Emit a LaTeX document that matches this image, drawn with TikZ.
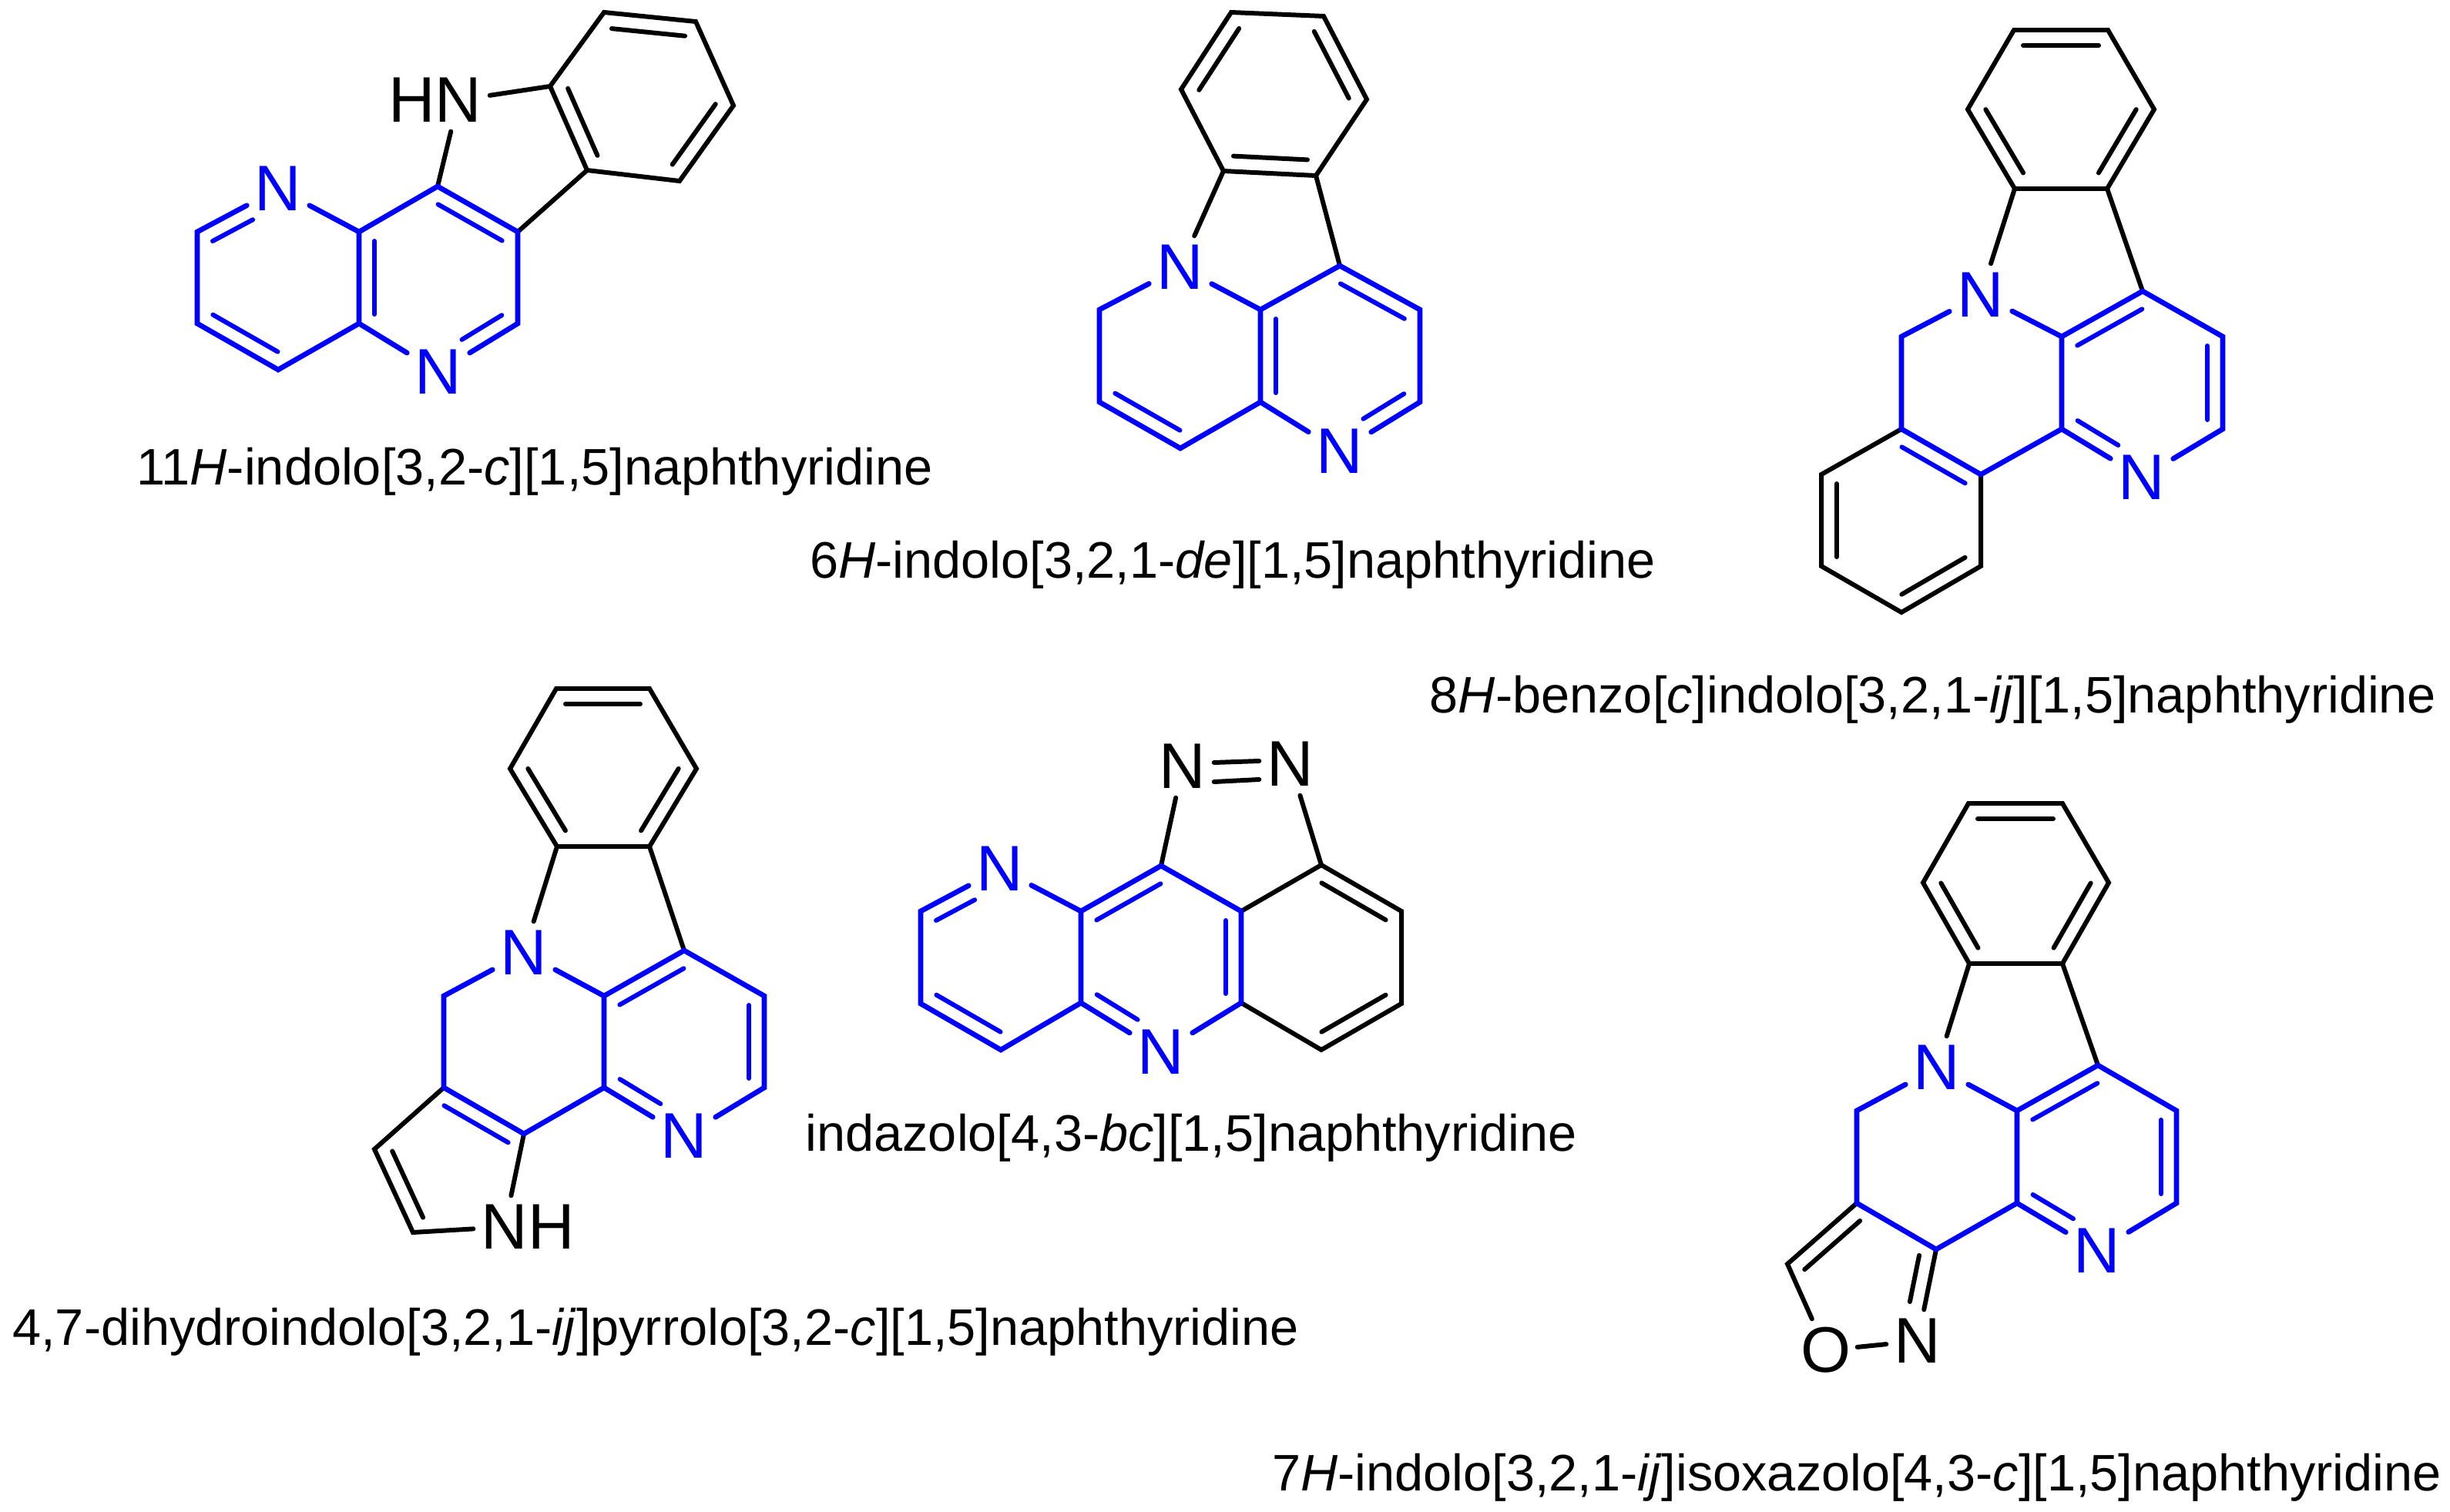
\documentclass[tikz,border=0pt]{standalone}
\usepackage{fontspec}
\setmainfont{Liberation Sans}
\usepackage{xcolor}
\usetikzlibrary{calc}
\tikzset{
	bond/.style={line width=1.7pt,line cap=round,line join=miter},
	bluebond/.style={bond,blue,line width=1.9pt},
	innerbond/.style={bond,shorten <=0.12cm,shorten >=0.12cm},
	toN/.style={shorten >=0.48cm},
	fromN/.style={shorten <=0.48cm},
	atom/.style={rectangle,inner sep=0pt,minimum size=0.8cm,font=\fontsize{23.8}{24}\selectfont},
	blueatom/.style={atom,text=blue},
	title/.style={anchor=base,inner sep=0pt,font=\fontsize{18.97}{20}\selectfont}
}
\newcommand{\dbl}[3][]{\draw[innerbond,#1] ($(#2)!0.2cm!90:(#3)$) -- ($(#3)!0.2cm!-90:(#2)$);}
\begin{document}
\begin{tikzpicture}
	\useasboundingbox (0,0) rectangle (31.8,-19.63);
	\coordinate (A1) at (7.84,-0.16);
	\coordinate (A2) at (9.03,-0.28);
	\coordinate (A3) at (9.52,-1.37);
	\coordinate (A4) at (8.82,-2.35);
	\coordinate (A5) at (7.62,-2.21);
	\coordinate (A6) at (7.14,-1.12);
	\coordinate (A7) at (5.68,-2.42);
	\coordinate (A8) at (6.72,-3.01);
	\coordinate (A9) at (6.72,-4.20);
	\coordinate (A10) at (4.66,-4.20);
	\coordinate (A11) at (4.66,-3.01);
	\coordinate (A12) at (2.56,-3.01);
	\coordinate (A13) at (2.56,-4.20);
	\coordinate (A14) at (3.61,-4.80);
	\node[atom] (AN1) at (5.95,-1.30) {\llap{H}N};
	\node[blueatom] (AN2) at (3.61,-2.45) {N};
	\node[blueatom] (AN3) at (5.69,-4.83) {N};
	\draw[bond] (A1) -- (A2) -- (A3) -- (A4) -- (A5) -- (A6) -- cycle;
	\draw[bond] (A6) -- (AN1);
	\draw[bond] (A5) -- (A8);
	\draw[bond] (AN1) -- (A7);
	\draw[bluebond] (AN2) -- (A12) -- (A13) -- (A14) -- (A10) -- (A11) -- (AN2);
	\draw[bluebond] (A10) -- (AN3);
	\draw[bluebond] (AN3) -- (A9) -- (A8) -- (A7) -- (A11);
	\dbl{A2}{A1}
	\dbl{A4}{A3}
	\dbl{A6}{A5}
	\dbl[blue,fromN]{AN2}{A12}
	\dbl[blue]{A13}{A14}
	\dbl[blue]{A11}{A10}
	\dbl[blue]{A8}{A7}
	\dbl[blue,fromN]{AN3}{A9}
	\node[title] (Aname) at (6.94,-6.29) {11\textit{H}-indolo[3,2-\textit{c}][1,5]naphthyridine};

	\coordinate (B1) at (15.98,-0.16);
	\coordinate (B2) at (17.18,-0.21);
	\coordinate (B3) at (17.74,-1.29);
	\coordinate (B4) at (17.08,-2.28);
	\coordinate (B5) at (15.88,-2.22);
	\coordinate (B6) at (15.33,-1.16);
	\coordinate (B7) at (17.39,-3.45);
	\coordinate (B8) at (18.43,-4.02);
	\coordinate (B9) at (18.43,-5.22);
	\coordinate (B10) at (16.36,-5.22);
	\coordinate (B11) at (16.36,-4.02);
	\coordinate (B12) at (15.32,-5.82);
	\coordinate (B13) at (14.27,-5.22);
	\coordinate (B14) at (14.27,-4.02);
	\node[blueatom] (BN1) at (15.32,-3.47) {N};
	\node[blueatom] (BN2) at (17.39,-5.86) {N};
	\draw[bond] (B1) -- (B2) -- (B3) -- (B4) -- (B5) -- (B6) -- cycle;
	\draw[bond] (B5) -- (BN1);
	\draw[bond] (B4) -- (B7);
	\draw[bluebond] (BN1) -- (B14) -- (B13) -- (B12) -- (B10) -- (B11) -- (BN1);
	\draw[bluebond] (B10) -- (BN2);
	\draw[bluebond] (BN2) -- (B9) -- (B8) -- (B7) -- (B11);
	\dbl{B1}{B6}
	\dbl{B5}{B4}
	\dbl{B3}{B2}
	\dbl[blue]{B13}{B12}
	\dbl[blue]{B11}{B10}
	\dbl[blue,fromN]{BN2}{B9}
	\dbl[blue]{B8}{B7}
	\node[title] (Bname) at (16.00,-7.50) {6\textit{H}-indolo[3,2,1-\textit{de}][1,5]naphthyridine};

	\coordinate (C1) at (26.14,-0.39);
	\coordinate (C2) at (27.36,-0.39);
	\coordinate (C3) at (27.96,-1.42);
	\coordinate (C4) at (27.35,-2.45);
	\coordinate (C5) at (26.15,-2.45);
	\coordinate (C6) at (25.54,-1.42);
	\coordinate (C7) at (27.81,-3.78);
	\coordinate (C8) at (28.85,-4.37);
	\coordinate (C9) at (28.85,-5.57);
	\coordinate (C10) at (26.76,-5.57);
	\coordinate (C11) at (26.76,-4.37);
	\coordinate (C12) at (24.68,-4.37);
	\coordinate (C13) at (24.68,-5.57);
	\coordinate (C14) at (25.71,-6.16);
	\coordinate (C15) at (25.71,-7.35);
	\coordinate (C16) at (24.68,-7.95);
	\coordinate (C17) at (23.64,-7.35);
	\coordinate (C18) at (23.64,-6.16);
	\node[blueatom] (CN1) at (25.71,-3.83) {N};
	\node[blueatom] (CN2) at (27.80,-6.20) {N};
	\draw[bond] (C1) -- (C2) -- (C3) -- (C4) -- (C5) -- (C6) -- cycle;
	\draw[bond] (C5) -- (CN1);
	\draw[bond] (C4) -- (C7);
	\draw[bond] (C13) -- (C18) -- (C17) -- (C16) -- (C15) -- (C14);
	\draw[bluebond] (CN1) -- (C12) -- (C13) -- (C14) -- (C10) -- (C11) -- (CN1);
	\draw[bluebond] (C10) -- (CN2);
	\draw[bluebond] (CN2) -- (C9) -- (C8) -- (C7) -- (C11);
	\dbl{C2}{C1}
	\dbl{C6}{C5}
	\dbl{C4}{C3}
	\dbl{C18}{C17}
	\dbl{C16}{C15}
	\dbl[blue]{C14}{C13}
	\dbl[blue]{C7}{C11}
	\dbl[blue,toN]{C10}{CN2}
	\dbl[blue]{C9}{C8}
	\node[title] (Cname) at (25.09,-9.25) {8\textit{H}-benzo[\textit{c}]indolo[3,2,1-\textit{ij}][1,5]naphthyridine};

	\coordinate (D1) at (7.22,-8.94);
	\coordinate (D2) at (8.43,-8.94);
	\coordinate (D3) at (9.04,-9.98);
	\coordinate (D4) at (8.43,-10.99);
	\coordinate (D5) at (7.23,-10.99);
	\coordinate (D6) at (6.62,-9.98);
	\coordinate (D7) at (8.88,-12.34);
	\coordinate (D8) at (9.92,-12.93);
	\coordinate (D9) at (9.92,-14.12);
	\coordinate (D10) at (7.84,-14.12);
	\coordinate (D11) at (7.84,-12.93);
	\coordinate (D12) at (5.76,-12.93);
	\coordinate (D13) at (5.76,-14.12);
	\coordinate (D14) at (6.80,-14.72);
	\coordinate (D15) at (4.86,-14.92);
	\coordinate (D16) at (5.36,-16.00);
	\node[blueatom] (DN1) at (6.80,-12.37) {N};
	\node[blueatom] (DN2) at (8.88,-14.75) {N};
	\node[atom] (DN3) at (6.55,-15.93) {N\rlap{H}};
	\draw[bond] (D1) -- (D2) -- (D3) -- (D4) -- (D5) -- (D6) -- cycle;
	\draw[bond] (D5) -- (DN1);
	\draw[bond] (D4) -- (D7);
	\draw[bond] (D13) -- (D15) -- (D16) -- (DN3);
	\draw[bond] (DN3) -- (D14);
	\draw[bluebond] (DN1) -- (D12) -- (D13) -- (D14) -- (D10) -- (D11) -- (DN1);
	\draw[bluebond] (D10) -- (DN2);
	\draw[bluebond] (DN2) -- (D9) -- (D8) -- (D7) -- (D11);
	\dbl{D2}{D1}
	\dbl{D6}{D5}
	\dbl{D4}{D3}
	\dbl{D15}{D16}
	\dbl[blue]{D14}{D13}
	\dbl[blue]{D7}{D11}
	\dbl[blue,toN]{D10}{DN2}
	\dbl[blue]{D9}{D8}
	\node[title] (Dname) at (8.51,-17.46) {4,7-dihydroindolo[3,2,1-\textit{ij}]pyrrolo[3,2-\textit{c}][1,5]naphthyridine};

	\coordinate (E1) at (15.07,-11.24);
	\coordinate (E2) at (16.11,-11.83);
	\coordinate (E3) at (16.11,-13.02);
	\coordinate (E4) at (14.03,-13.02);
	\coordinate (E5) at (14.03,-11.83);
	\coordinate (E6) at (11.95,-11.83);
	\coordinate (E7) at (11.95,-13.03);
	\coordinate (E8) at (12.99,-13.63);
	\coordinate (E9) at (17.15,-11.23);
	\coordinate (E10) at (18.19,-11.83);
	\coordinate (E11) at (18.19,-13.03);
	\coordinate (E12) at (17.15,-13.63);
	\node[blueatom] (EN1) at (15.07,-13.66) {N};
	\node[blueatom] (EN2) at (12.98,-11.28) {N};
	\node[atom] (EN3) at (15.35,-9.95) {N};
	\node[atom] (EN4) at (16.75,-9.92) {N};
	\draw[bond] ([yshift=0.05cm]EN3.east) -- ([yshift=0.04cm]EN4.west);
	\draw[bond] ([yshift=-0.20cm]EN3.east) -- ([yshift=-0.20cm]EN4.west);
	\draw[bond] (E1) -- (EN3);
	\draw[bond] (EN4) -- (E9);
	\draw[bond] (E2) -- (E9) -- (E10) -- (E11) -- (E12) -- (E3);
	\draw[bluebond] (EN2) -- (E6) -- (E7) -- (E8) -- (E4) -- (E5) -- (EN2);
	\draw[bluebond] (E4) -- (EN1);
	\draw[bluebond] (EN1) -- (E3) -- (E2) -- (E1) -- (E5);
	\dbl{E10}{E9}
	\dbl{E12}{E11}
	\dbl[blue,fromN]{EN2}{E6}
	\dbl[blue]{E7}{E8}
	\dbl[blue]{E1}{E5}
	\dbl[blue,toN]{E4}{EN1}
	\dbl[blue]{E3}{E2}
	\node[title] (Ename) at (15.46,-14.94) {indazolo[4,3-\textit{bc}][1,5]naphthyridine};

	\coordinate (F1) at (25.55,-10.43);
	\coordinate (F2) at (26.77,-10.43);
	\coordinate (F3) at (27.37,-11.46);
	\coordinate (F4) at (26.77,-12.51);
	\coordinate (F5) at (25.56,-12.51);
	\coordinate (F6) at (24.96,-11.46);
	\coordinate (F7) at (27.23,-13.83);
	\coordinate (F8) at (28.25,-14.42);
	\coordinate (F9) at (28.25,-15.62);
	\coordinate (F10) at (26.18,-15.62);
	\coordinate (F11) at (26.18,-14.42);
	\coordinate (F12) at (24.10,-14.42);
	\coordinate (F13) at (24.10,-15.62);
	\coordinate (F14) at (25.13,-16.22);
	\coordinate (F15) at (23.20,-16.41);
	\node[blueatom] (FN1) at (25.14,-13.86) {N};
	\node[blueatom] (FN2) at (27.22,-16.24) {N};
	\node[atom] (FN3) at (24.89,-17.41) {N};
	\node[atom] (FO) at (23.70,-17.53) {O};
	\draw[bond] (F1) -- (F2) -- (F3) -- (F4) -- (F5) -- (F6) -- cycle;
	\draw[bond] (F5) -- (FN1);
	\draw[bond] (F4) -- (F7);
	\draw[bond] (F13) -- (F15) -- (FO);
	\draw[bond] (FO) -- (FN3);
	\draw[bond] (FN3) -- (F14);
	\draw[bluebond] (FN1) -- (F12) -- (F13) -- (F14) -- (F10) -- (F11) -- (FN1);
	\draw[bluebond] (F10) -- (FN2);
	\draw[bluebond] (FN2) -- (F9) -- (F8) -- (F7) -- (F11);
	\dbl{F2}{F1}
	\dbl{F6}{F5}
	\dbl{F4}{F3}
	\dbl{F13}{F15}
	\dbl[fromN]{FN3}{F14}
	\dbl[blue]{F7}{F11}
	\dbl[blue,toN]{F10}{FN2}
	\dbl[blue]{F9}{F8}
	\node[title] (Fname) at (24.10,-19.35) {7\textit{H}-indolo[3,2,1-\textit{ij}]isoxazolo[4,3-\textit{c}][1,5]naphthyridine};
\end{tikzpicture}
\end{document}
